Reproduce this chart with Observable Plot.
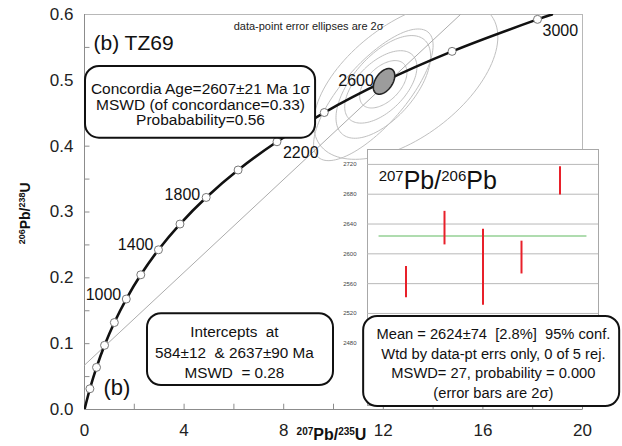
<!DOCTYPE html>
<html><head><meta charset="utf-8">
<script src="https://cdn.jsdelivr.net/npm/d3@7"></script>
<script src="https://cdn.jsdelivr.net/npm/@observablehq/plot@0.6"></script>
<style>
body{margin:0;background:#fff;}
#wrap{position:relative;width:622px;height:446px;}
#inset{position:absolute;left:336px;top:140px;}
svg text{white-space:pre;}
</style></head><body><div id="wrap"><div id="main"></div><div id="inset"></div></div>
<script>
const FONT = '"Liberation Sans", Arial, sans-serif';

// Concordia curve: age (Ma), 207Pb/235U, 206Pb/238U
const concAges = [0, 200, 400, 600, 800, 1000, 1200, 1400, 1600, 1800, 2000, 2200, 2400, 2600, 2800, 3000, 3030];
const concX = [0, 0.2177, 0.4828, 0.8057, 1.1988, 1.6774, 2.2603, 2.9701, 3.8346, 4.8870, 6.1689, 7.7292, 9.6296, 11.9437, 14.7617, 18.1930, 18.77];
const concY = [0, 0.0315, 0.0640, 0.0975, 0.1321, 0.1678, 0.2046, 0.2426, 0.2817, 0.3221, 0.3638, 0.4067, 0.4511, 0.4968, 0.5440, 0.5926, 0.600];
const concMarkerAges = [200, 400, 600, 800, 1000, 1200, 1400, 1600, 1800, 2000, 2200, 2400, 2600, 2800, 3000];
const concLabelAges = [1000, 1400, 1800, 2200, 2600, 3000];

// Discordia (intercepts 584 & 2637 Ma) as drawn
const discX = [0, 15.1];
const discY = [0.0674, 0.6];

// Data-point error ellipses (2 sigma): centre, half-widths, correlation
const ellCx = [12.9, 11.6, 12.0, 11.9, 12.0];
const ellCy = [0.500, 0.478, 0.490, 0.490, 0.494];
const ellSx = [3.7, 2.4, 1.9, 1.45, 0.95];
const ellSy = [0.120, 0.100, 0.078, 0.055, 0.036];
const ellRho = [0.55, 0.75, 0.60, 0.55, 0.50];

// Concordia age ellipse 2607 Ma
const cAgeX = 12.03, cAgeY = 0.4984, cAgeSx = 0.43, cAgeSy = 0.0195, cAgeRho = 0.45;

// Axes
const xTickLabels = [0, 4, 8, 12, 16, 20];
const xMinorTicks = [0, 2, 4, 6, 8, 10, 12, 14, 16, 18, 20];
const yTickLabels = [0, 0.1, 0.2, 0.3, 0.4, 0.5, 0.6];
const yMinorTicks = [0.05, 0.1, 0.15, 0.2, 0.25, 0.3, 0.35, 0.4, 0.45, 0.5, 0.55];

// Inset: 207Pb/206Pb ages (Ma) with 2 sigma bars
const spotIndex = [1, 2, 3, 4, 5];
const spotLow = [2541, 2612, 2531, 2573, 2679];
const spotHigh = [2583, 2657, 2633, 2617, 2717];
const weightedMean = 2624;
const insetTicks = [2480, 2520, 2560, 2600, 2640, 2680, 2720];

// Annotation text
const concBoxLines = ["Concordia Age=2607±21 Ma 1σ", "MSWD (of concordance=0.33)", "Probabability=0.56"];
const interceptLines = ["Intercepts  at", "584±12  & 2637±90 Ma", "MSWD  = 0.28"];
const meanLines = ["Mean = 2624±74  [2.8%]  95% conf.", "Wtd by data-pt errs only, 0 of 5 rej.", "MSWD= 27, probability = 0.000", "(error bars are 2σ)"];

// ---------- build ----------
const conc = concAges.map((a, i) => ({age: a, x: concX[i], y: concY[i]}));
const concAt = a => conc.find(d => d.age === a);
const markers = concMarkerAges.map(concAt);

function ellipsePts(id, cx, cy, sx, sy, rho) {
  const out = [], n = 120, k = Math.sqrt(1 - rho * rho);
  for (let j = 0; j < n; j++) {
    const t = 2 * Math.PI * j / n;
    out.push({id, x: cx + sx * Math.cos(t), y: cy + sy * (rho * Math.cos(t) + k * Math.sin(t))});
  }
  return out;
}
const ellPts = ellCx.flatMap((c, i) => ellipsePts(i, c, ellCy[i], ellSx[i], ellSy[i], ellRho[i]));
const cAgePts = ellipsePts(0, cAgeX, cAgeY, cAgeSx, cAgeSy, cAgeRho);
const disc = discX.map((x, i) => ({x, y: discY[i]}));

const labelPlace = {
  1000: {a: "end", dx: -5, dy: -4},
  1400: {a: "end", dx: -5, dy: -5},
  1800: {a: "end", dx: -6, dy: -3},
  2200: {a: "start", dx: 6, dy: 11},
  2600: {a: "end", dx: -8, dy: -2},
  3000: {a: "start", dx: 5, dy: 12}
};
const labelMarks = concLabelAges.map(a => {
  const p = labelPlace[a];
  return Plot.text([concAt(a)], {x: "x", y: "y", text: d => String(d.age), textAnchor: p.a, dx: p.dx, dy: p.dy, fontSize: 16, fill: "#111"});
});

const boxMain = [
  {x1: 0.04, x2: 9.28, y1: 0.4121, y2: 0.5212},
  {x1: 2.53, x2: 10.0, y1: 0.0364, y2: 0.1455}
];

const main = Plot.plot({
  width: 622, height: 446,
  marginLeft: 84, marginRight: 40, marginTop: 14, marginBottom: 37,
  style: {fontFamily: FONT, fontSize: "17px", color: "#222", background: "white"},
  x: {domain: [0, 20], ticks: xTickLabels, tickSize: 0, tickPadding: 14, label: null, tickFormat: d3.format("d")},
  y: {domain: [0, 0.6], ticks: yTickLabels, tickSize: 0, tickPadding: 11, label: null, tickFormat: d3.format(".1f")},
  marks: [
    Plot.frame({stroke: "#b8b8b8"}),
    Plot.ruleX([0], {stroke: "#8c8c8c"}),
    Plot.ruleY([0], {stroke: "#8c8c8c"}),
    Plot.ruleX(xMinorTicks, {x: d => d, y1: () => 0, y2: () => 0.008, stroke: "#8c8c8c"}),
    Plot.ruleY(yMinorTicks, {y: d => d, x1: () => 0, x2: () => 0.22, stroke: "#8c8c8c"}),
    Plot.line(ellPts, {x: "x", y: "y", z: "id", curve: "linear-closed", stroke: "#c0c0c0", strokeWidth: 1, clip: true}),
    Plot.line(disc, {x: "x", y: "y", stroke: "#acacac", strokeWidth: 1, clip: true}),
    Plot.line(conc, {x: "x", y: "y", curve: "catmull-rom", stroke: "#111", strokeWidth: 2.6, clip: true}),
    Plot.dot(markers, {x: "x", y: "y", r: 4, fill: "white", stroke: "#777", strokeWidth: 1}),
    Plot.line(cAgePts, {x: "x", y: "y", curve: "linear-closed", fill: "#9c9c9c", stroke: "#222", strokeWidth: 1.6}),
    ...labelMarks,
    Plot.text(["data-point error ellipses are 2σ"], {x: () => 9.0, y: () => 0.5818, text: d => d, fontSize: 11, fill: "#222"}),
    Plot.text(["(b) TZ69"], {x: () => 0.36, y: () => 0.556, text: d => d, textAnchor: "start", fontSize: 21, fill: "#111"}),
    Plot.rect(boxMain, {x1: "x1", x2: "x2", y1: "y1", y2: "y2", rx: 14, fill: "white", stroke: "#111", strokeWidth: 2}),
    Plot.text([concBoxLines.join("\n")], {x: () => 4.66, y: () => 0.4629, text: d => d, fontSize: 15.5, lineHeight: 1.0, fill: "#111"}),
    Plot.text([interceptLines.join("\n")], {x: () => 6.02, y: () => 0.0886, text: d => d, fontSize: 15.3, lineHeight: 1.35, fill: "#111"}),
    Plot.text(["(b)"], {x: () => 0.76, y: () => 0.0333, text: d => d, textAnchor: "start", fontSize: 22, fill: "#111"}),
    Plot.text(["206Pb/238U"], {x: () => -2.35, y: () => 0.298, rotate: -90, text: d => d, fontSize: 14, fontWeight: "bold", fill: "#111"}),
    Plot.text(["207Pb/235U"], {x: () => 9.92, y: () => -0.039, text: d => d, fontSize: 16, fontWeight: "bold", fill: "#111"})
  ]
});
document.getElementById("main").appendChild(main);

const bars = spotIndex.map((i, k) => ({i, lo: spotLow[k], hi: spotHigh[k]}));
const boxInset = [{x1: -0.1, x2: 6.55, y1: 2395, y2: 2516}];
const inset = Plot.plot({
  width: 286, height: 275,
  marginLeft: 31, marginRight: 24, marginTop: 9, marginBottom: 10,
  style: {fontFamily: FONT, fontSize: "6px", color: "#444", background: "transparent", overflow: "visible"},
  x: {domain: [0, 6], axis: null},
  y: {domain: [2396.5, 2740], ticks: insetTicks, tickSize: 0, tickPadding: 11, tickFormat: d3.format("d"), label: null},
  marks: [
    Plot.frame({fill: "white", stroke: "#a8a8a8"}),
    Plot.ruleY(insetTicks, {stroke: "#b8b8b8"}),
    Plot.ruleY([weightedMean], {x1: () => 0.3, x2: () => 5.7, stroke: "#95d095", strokeWidth: 1.5}),
    Plot.ruleX(bars, {x: "i", y1: "lo", y2: "hi", stroke: "#e8202a", strokeWidth: 2}),
    Plot.text(["207Pb/206Pb"], {x: () => 0.29, y: () => 2698, text: d => d, textAnchor: "start", fontSize: 25, fill: "#111"}),
    Plot.rect(boxInset, {x1: "x1", x2: "x2", y1: "y1", y2: "y2", rx: 14, fill: "white", stroke: "#111", strokeWidth: 2}),
    Plot.text([meanLines.join("\n")], {x: () => 3.27, y: () => 2454.3, text: d => d, fontSize: 14.7, lineHeight: 1.33, fill: "#111"})
  ]
});
document.getElementById("inset").appendChild(inset);

function supify(root, plain, parts, supSize) {
  d3.select(root).selectAll("text").each(function () {
    if (this.textContent !== plain) return;
    const t = d3.select(this);
    t.text(null);
    for (const [s, sup] of parts) {
      const ts = t.append("tspan").text(s);
      if (sup) ts.attr("font-size", supSize).attr("baseline-shift", "super");
    }
  });
}
supify(main, "206Pb/238U", [["206", 1], ["Pb/", 0], ["238", 1], ["U", 0]], 9);
supify(main, "207Pb/235U", [["207", 1], ["Pb/", 0], ["235", 1], ["U", 0]], 10);
supify(inset, "207Pb/206Pb", [["207", 1], ["Pb/", 0], ["206", 1], ["Pb", 0]], 15);
</script></body></html>
